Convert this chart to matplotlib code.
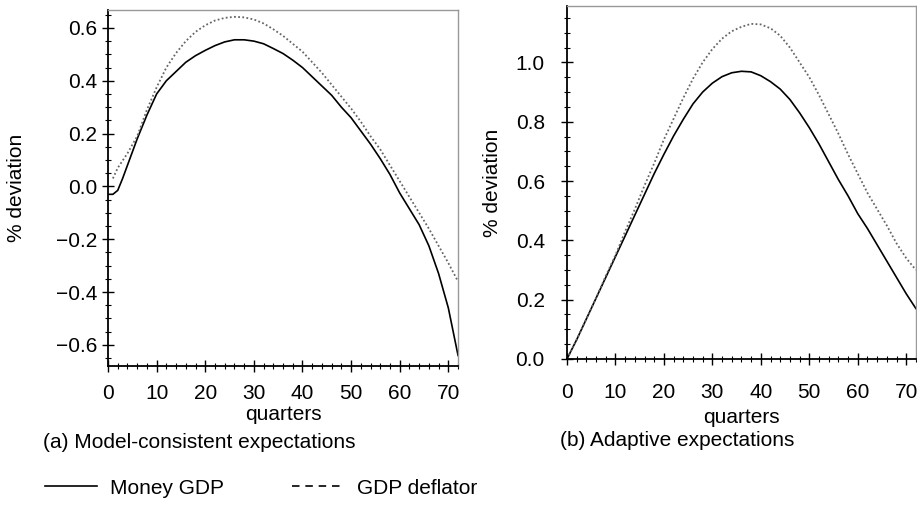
import matplotlib
matplotlib.use("Agg")
import matplotlib.pyplot as plt
from matplotlib.lines import Line2D
from matplotlib.ticker import MultipleLocator, FuncFormatter

plt.rcParams['font.family'] = ['Liberation Sans', 'DejaVu Sans']

# (a) model-consistent expectations
quarters_a = [0, 1, 2, 3, 4, 5, 6, 8, 10, 12, 14, 16, 18, 20, 22, 24, 26, 28, 30,
              32, 34, 36, 38, 40, 42, 44, 46, 48, 50, 52, 54, 56, 58, 60, 62, 64,
              66, 68, 70, 72]
money_gdp_a = [-0.03, -0.03, -0.015, 0.03, 0.08, 0.13, 0.18, 0.27, 0.35, 0.40,
               0.435, 0.47, 0.495, 0.515, 0.533, 0.547, 0.555, 0.555, 0.55,
               0.54, 0.522, 0.503, 0.478, 0.45, 0.415, 0.38, 0.345, 0.30, 0.26,
               0.21, 0.16, 0.105, 0.045, -0.025, -0.085, -0.145, -0.225, -0.33,
               -0.46, -0.64]

quarters_a_defl = [1, 2, 4, 6, 8, 10, 12, 14, 16, 18, 20, 22, 24, 26, 28, 30, 32,
                   34, 36, 38, 40, 42, 44, 46, 48, 50, 52, 54, 56, 58, 60, 62, 64,
                   66, 68, 70, 72]
deflator_a = [0.03, 0.07, 0.125, 0.19, 0.29, 0.375, 0.45, 0.505, 0.55, 0.585,
              0.61, 0.628, 0.638, 0.642, 0.64, 0.632, 0.617, 0.595, 0.57, 0.54,
              0.51, 0.47, 0.43, 0.385, 0.34, 0.295, 0.245, 0.19, 0.14, 0.08,
              0.02, -0.04, -0.10, -0.16, -0.225, -0.29, -0.36]

# (b) adaptive expectations
quarters_b = [0, 2, 4, 6, 8, 10, 12, 14, 16, 18, 20, 22, 24, 26, 28, 30, 32, 34,
              36, 38, 40, 42, 44, 46, 48, 50, 52, 54, 56, 58, 60, 62, 64, 66, 68,
              70, 72]
money_gdp_b = [0.0, 0.065, 0.135, 0.205, 0.275, 0.345, 0.415, 0.485, 0.555,
               0.625, 0.69, 0.752, 0.808, 0.86, 0.90, 0.93, 0.952, 0.965, 0.97,
               0.968, 0.955, 0.935, 0.91, 0.875, 0.83, 0.78, 0.725, 0.665,
               0.605, 0.55, 0.49, 0.44, 0.385, 0.33, 0.275, 0.22, 0.17]
deflator_b = [0.0, 0.065, 0.135, 0.205, 0.28, 0.35, 0.43, 0.505, 0.585, 0.66,
              0.74, 0.81, 0.88, 0.945, 1.0, 1.045, 1.08, 1.105, 1.12, 1.13,
              1.128, 1.115, 1.09, 1.05, 1.0, 0.95, 0.89, 0.825, 0.76, 0.69,
              0.625, 0.56, 0.505, 0.45, 0.39, 0.34, 0.30]

fs = 15
fig = plt.figure(figsize=(9.17, 5.16), dpi=100)
ax1 = fig.add_axes([0.1178, 0.2907, 0.3817, 0.690])
ax2 = fig.add_axes([0.6183, 0.3043, 0.3805, 0.684])

solid = dict(color='black', lw=1.2)
dotted = dict(color='#666666', lw=1.3, linestyle=(0, (1, 1.3)))

ax1.plot(quarters_a, money_gdp_a, **solid)
ax1.plot(quarters_a_defl, deflator_a, **dotted)
ax2.plot(quarters_b, money_gdp_b, **solid)
ax2.plot(quarters_b, deflator_b, **dotted)

ax1.set_ylim(-0.68, 0.668)
ax2.set_ylim(0.0, 1.19)

minus_fmt = FuncFormatter(lambda v, pos: f'{v:.1f}'.replace('-', '\u2212'))

for ax in (ax1, ax2):
    ax.set_xlim(0, 72)
    ax.xaxis.set_major_locator(MultipleLocator(10))
    ax.xaxis.set_minor_locator(MultipleLocator(2))
    ax.yaxis.set_major_locator(MultipleLocator(0.2))
    ax.yaxis.set_minor_locator(MultipleLocator(0.05))
    ax.yaxis.set_major_formatter(minus_fmt)
    ax.tick_params(which='major', direction='inout', length=8, width=1,
                   labelsize=fs)
    ax.tick_params(which='minor', direction='inout', length=4, width=0.8)
    for side in ('top', 'right'):
        ax.spines[side].set_color('#999999')
        ax.spines[side].set_linewidth(1.0)
    for side in ('left', 'bottom'):
        ax.spines[side].set_linewidth(1.3)
    ax.set_xlabel('quarters', fontsize=fs)
    ax.set_ylabel('% deviation', fontsize=fs)

ax1.tick_params(axis='x', which='major', pad=9)
ax1.tick_params(axis='y', which='major', pad=4)
ax2.tick_params(axis='x', which='major', pad=13)
ax2.tick_params(axis='y', which='major', pad=12)

ax1.yaxis.set_label_coords(-0.233, 0.5)
ax2.yaxis.set_label_coords(-0.186, 0.5)
ax1.xaxis.set_label_coords(0.5, -0.11)
ax2.xaxis.set_label_coords(0.5, -0.14)

fig.text(43 / 917, 1 - 443 / 516, '(a) Model-consistent expectations',
         fontsize=fs, va='center', ha='left')
fig.text(560 / 917, 1 - 440 / 516, '(b) Adaptive expectations',
         fontsize=fs, va='center', ha='left')

handles = [Line2D([], [], color='black', lw=1.2),
           Line2D([], [], color='black', lw=1.2, linestyle=(0, (4.5, 3.5)))]
fig.legend(handles, ['Money GDP', 'GDP deflator'], loc='center left',
           bbox_to_anchor=(45 / 917, 1 - 488 / 516), ncol=2, frameon=False,
           fontsize=fs, handlelength=2.5, handletextpad=0.6,
           columnspacing=3.3, borderaxespad=0, borderpad=0)

fig.savefig('out.png', dpi=100)
